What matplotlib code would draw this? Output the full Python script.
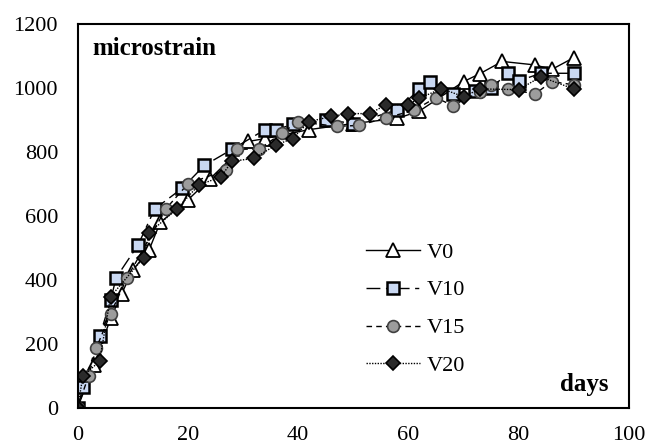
import matplotlib
matplotlib.use("Agg")
import matplotlib.pyplot as plt

plt.rcParams['font.family'] = ['Liberation Serif', 'DejaVu Serif']

# ---- data ----
v0_days = [0, 3, 6, 8, 10, 13, 15, 20, 24, 31, 34, 42, 50, 58, 62, 70, 73, 77, 83, 86, 90]
v0_vals = [0, 134, 280, 357, 430, 495, 580, 650, 716, 833, 842, 870, 889, 905, 928, 1020, 1045, 1083, 1072, 1058, 1095]

v10_days = [0, 1, 4, 6, 7, 11, 14, 19, 23, 28, 34, 36, 39, 45, 50, 58, 62, 64, 68, 72, 75, 78, 80, 84, 90]
v10_vals = [0, 65, 224, 336, 407, 510, 622, 687, 758, 808, 870, 870, 886, 901, 889, 932, 996, 1020, 982, 992, 1000, 1046, 1022, 1046, 1046]

v15_days = [0, 2, 3.4, 6, 9, 16, 20, 27, 29, 33, 37, 40, 47, 51, 56, 61, 65, 68, 73, 75, 78, 83, 86, 90]
v15_vals = [0, 100, 187, 295, 407, 622, 700, 745, 808, 810, 858, 895, 880, 883, 907, 930, 970, 945, 988, 1010, 996, 982, 1020, 1010]

v20_days = [0, 1, 4, 6, 12, 13, 18, 22, 26, 28, 32, 36, 39, 42, 46, 49, 53, 56, 60, 62, 66, 70, 73, 80, 84, 90]
v20_vals = [0, 100, 146, 348, 470, 547, 622, 697, 722, 771, 780, 822, 842, 895, 911, 920, 920, 948, 948, 968, 998, 973, 997, 995, 1035, 997]

labels = ["V0", "V10", "V15", "V20"]
x_ticks = [0, 20, 40, 60, 80, 100]
y_ticks = [0, 200, 400, 600, 800, 1000, 1200]

fig = plt.figure(figsize=(6.48, 4.46), dpi=100)
ax = fig.add_axes([77.5/648, 1 - 408/446, (629 - 77.5)/648, (408 - 24)/446])

ax.plot(v0_days, v0_vals, linestyle='-', color='black', lw=1.0,
        marker='^', markersize=10, markerfacecolor='white', markeredgecolor='black',
        markeredgewidth=1.3, label=labels[0])
ax.plot(v10_days, v10_vals, linestyle=(0, (10, 4, 3, 4)), color='black', lw=1.0,
        marker='s', markersize=8.5, markerfacecolor='#c9d8f2', markeredgecolor='black',
        markeredgewidth=1.8, label=labels[1])
ax.plot(v15_days, v15_vals, linestyle=(0, (4, 3)), color='black', lw=1.0,
        marker='o', markersize=8.5, markerfacecolor='#9c9c9c', markeredgecolor='#404040',
        markeredgewidth=1.2, label=labels[2])
ax.plot(v20_days, v20_vals, linestyle=(0, (1, 1)), color='black', lw=1.0,
        marker='D', markersize=7.5, markerfacecolor='#2a2a2a', markeredgecolor='black',
        markeredgewidth=1.2, label=labels[3])

ax.set_xlim(0, 100)
ax.set_ylim(0, 1200)
ax.set_xticks(x_ticks)
ax.set_yticks(y_ticks)
ax.tick_params(length=0, labelsize=16)
ax.tick_params(axis='x', pad=13)
ax.tick_params(axis='y', pad=14)
for s in ax.spines.values():
    s.set_linewidth(1.5)
    s.set_color('black')

ax.text(0.027, 0.935, "microstrain", transform=ax.transAxes, fontsize=18,
        fontweight='bold', va='center', ha='left')
ax.text(0.963, 0.06, "days", transform=ax.transAxes, fontsize=18,
        fontweight='bold', va='center', ha='right')

leg = fig.legend(loc='upper left', bbox_to_anchor=(366/648, 1 - 242/446),
                 frameon=False, fontsize=16, handlelength=2.45, handletextpad=0.3,
                 labelspacing=0.78, borderpad=0, borderaxespad=0)

fig.savefig("out.png", dpi=100)
